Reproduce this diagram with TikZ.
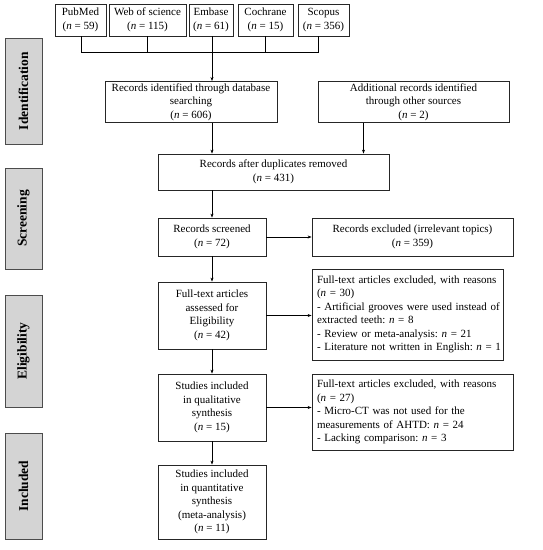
\documentclass[tikz,border=0pt]{standalone}
\usepackage{fontspec}
\setmainfont{Liberation Serif}
\usetikzlibrary{arrows.meta,shadows}
\begin{document}
\frenchspacing
\begin{tikzpicture}[x=1pt,y=-1pt,
  box/.style={draw=black!85,line width=0.8pt,fill=white,align=center,inner sep=2pt,
    font=\fontsize{11}{13.5}\selectfont\frenchspacing,
    drop shadow={shadow xshift=0.9pt,shadow yshift=-0.9pt,fill=black!55,opacity=1}},
  lbox/.style={box,align=left,text width=#1,inner xsep=5pt},
  side/.style={draw=black!70,line width=0.9pt,fill=black!17,minimum width=37pt,
    font=\fontsize{13.5}{15}\selectfont\bfseries,rotate=90,
    drop shadow={shadow xshift=0.9pt,shadow yshift=-0.9pt,fill=black!60,opacity=1}},
  arr/.style={-{Stealth[length=4pt,width=3pt]},line width=0.7pt},
  ln/.style={line width=0.7pt}]
\useasboundingbox (0,0) rectangle (542,550);
% side labels
\node[side,minimum height=37pt,minimum width=106pt] (sid) at (23.5,91) {Identification};
\node[side,minimum height=37pt,minimum width=101pt] (sscr) at (23.5,218.5) {Screening};
\node[side,minimum height=37pt,minimum width=112pt] (selig) at (23.5,351) {Eligibility};
\node[side,minimum height=37pt,minimum width=106pt] (sinc) at (23.5,486) {Included};
% databases
\node[box,minimum width=51pt,minimum height=32pt] (pub) at (80.5,20) {PubMed\\(\textit{n} = 59)};
\node[box,minimum width=77pt,minimum height=32pt] (wos) at (147.5,20) {Web of science\\(\textit{n} = 115)};
\node[box,minimum width=44pt,minimum height=32pt] (emb) at (211,20) {Embase\\(\textit{n} = 61)};
\node[box,minimum width=55pt,minimum height=32pt] (coc) at (265.5,20) {Cochrane\\(\textit{n} = 15)};
\node[box,minimum width=51pt,minimum height=32pt] (sco) at (323.5,20) {Scopus\\(\textit{n} = 356)};
\coordinate (barL) at (81,52);
\coordinate (barR) at (318,52);
\coordinate (barM) at (212,52);
% main boxes
\node[box,minimum width=172pt,minimum height=34pt] (recid) at (191,102) {Records identified through database\\searching\\(\textit{n} = 606)};
\node[box,minimum width=191pt,minimum height=34pt] (addl) at (413.5,102) {Additional records identified\\through other sources\\(\textit{n} = 2)};
\node[box,minimum width=231pt,minimum height=36pt] (dup) at (273.5,172) {Records after duplicates removed\\(\textit{n} = 431)};
\node[box,minimum width=108pt,minimum height=38pt] (scr) at (212,237) {Records screened\\(\textit{n} = 72)};
\node[box,minimum width=201pt,minimum height=38pt] (exc1) at (412.5,237) {Records excluded (irrelevant topics)\\(\textit{n} = 359)};
\node[box,minimum width=108pt,minimum height=67pt] (full) at (212,315.5) {Full-text articles\\assessed for\\Eligibility\\(\textit{n} = 42)};
\node[lbox=181pt,minimum height=91pt] (exc2) at (407.5,314.5) {\mbox{Full-text articles excluded, with reasons}\\(\textit{n} = 30)\\\mbox{- Artificial grooves were used instead of}\\\mbox{extracted teeth: \textit{n} = 8}\\\mbox{- Review or meta-analysis: \textit{n} = 21}\\\mbox{- Literature not written in English: \textit{n} = 1}};
\node[lbox=191pt,minimum height=76pt] (exc3) at (412.5,412) {\mbox{Full-text articles excluded, with reasons}\\(\textit{n} = 27)\\\mbox{- Micro-CT was not used for the}\\\mbox{measurements of AHTD: \textit{n} = 24}\\\mbox{- Lacking comparison: \textit{n} = 3}};
\node[box,minimum width=108pt,minimum height=74pt] (quant) at (212,502) {Studies included\\in quantitative\\synthesis\\(meta-analysis)\\(\textit{n} = 11)};
\node[box,minimum width=108pt,minimum height=67pt] (qual) at (212,407.5) {Studies included\\in qualitative\\synthesis\\(\textit{n} = 15)};
% connectors
\draw[ln] (pub.south -| barL) -- (barL) -- (barR) -- (sco.south -| barR);
\draw[ln] (wos.south) -- (wos.south |- barL);
\draw[ln] (coc.south) -- (coc.south |- barL);
\draw[arr] (emb.south -| barM) -- (recid.north -| barM);
\draw[arr] (recid.south -| barM) -- (dup.north -| barM);
\draw[arr] ([xshift=-50pt]addl.south) -- ([xshift=-50pt]addl.south |- dup.north);
\draw[arr] (dup.south -| scr) -- (scr.north);
\draw[arr] (scr) -- (exc1);
\draw[arr] (scr.south) -- (full.north);
\draw[arr] (full.east) -- (full.east -| exc2.west);
\draw[arr] (full.south) -- (qual.north);
\draw[arr] (qual.east) -- (qual.east -| exc3.west);
\draw[arr] (qual.south) -- (quant.north);
\end{tikzpicture}
\end{document}
